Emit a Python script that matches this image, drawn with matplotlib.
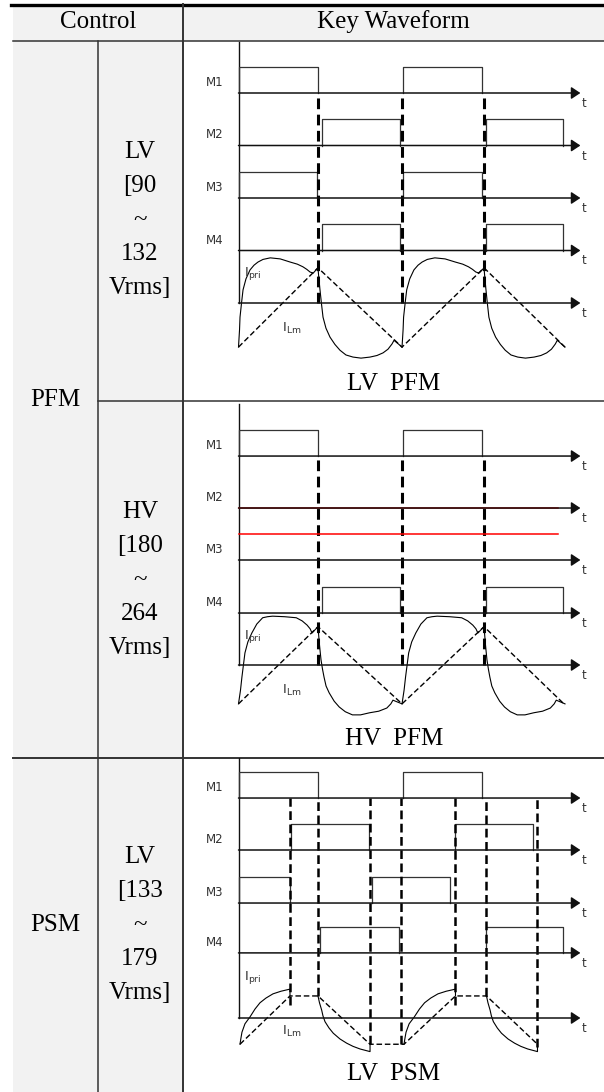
import numpy as np
import matplotlib
matplotlib.use('Agg')
import matplotlib.pyplot as plt
from matplotlib.patches import Rectangle

# table of PFM / PSM control modes with key switching waveforms
W, H = 604, 1092
SERIF = 'Liberation Serif'
SANS = 'DejaVu Sans'

# time axis: t=0 at the vertical axis, 1 unit ~ half a switching period
T0, TU = 238.5, 81.6     # px
YU = 52.5                # px per level unit

# ---- data ----
mode_names = ['PFM', 'PSM']
row_texts = [['LV', '[90', '~', '132', 'Vrms]'],
             ['HV', '[180', '~', '264', 'Vrms]'],
             ['LV', '[133', '~', '179', 'Vrms]']]
captions = ['LV  PFM', 'HV  PFM', 'LV  PSM']
gate_names = ['M1', 'M2', 'M3', 'M4']

# gate pulses (on, off) in t units
lv_pfm_pulses = [[(0.0, 0.974), (2.016, 2.984)],
                 [(1.023, 1.979), (3.033, 3.977)],
                 [(0.0, 0.962), (2.016, 2.984)],
                 [(1.023, 1.979), (3.033, 3.977)]]
hv_pfm_pulses = [[(0.0, 0.974), (2.016, 2.984)],
                 [],
                 [],
                 [(1.023, 1.979), (3.033, 3.977)]]
psm_pulses = [[(0.0, 0.974), (2.016, 2.984)],
              [(0.643, 1.599), (2.653, 3.609)],
              [(0.0, 0.631), (1.636, 2.592)],
              [(0.999, 1.967), (3.033, 3.977)]]

# red marks on HV M2 row
hv_red_levels = [0.0, -0.5]
hv_red_end = 3.915

# switching instants (dashed lines)
pfm_switch = [0.974, 2.004, 3.009]
psm_switch = [0.631, 0.974, 1.612, 1.991, 2.659, 3.039, 3.664]
psm_switch_bottom = [0.25, 0.42, -0.50, -0.50, 0.25, 0.42, -0.55]

# magnetizing current corners
pfm_ilm_t = [0.0, 0.974, 2.004, 3.009, 4.001]
lv_ilm = [-0.84, 0.67, -0.84, 0.67, -0.84]
hv_ilm = [-0.74, 0.73, -0.74, 0.73, -0.76]
psm_ilm_t = [0.018, 0.631, 0.974, 1.612, 2.028, 2.659, 3.039, 3.664]
psm_ilm = [-0.50, 0.42, 0.42, -0.50, -0.50, 0.42, 0.42, -0.50]

# primary current shapes per half cycle (phase 0..1, level)
lv_rise_ph = [0, 0.013, 0.019, 0.038, 0.057, 0.094, 0.145, 0.195, 0.245, 0.308,
              0.40, 0.525, 0.65, 0.74, 0.81, 0.86, 0.90, 0.94, 1.0]
lv_rise = [-0.84, -0.51, -0.27, 0.0, 0.25, 0.46, 0.63, 0.72, 0.78, 0.83,
           0.86, 0.84, 0.78, 0.74, 0.69, 0.64, 0.59, 0.57, 0.67]
lv_fall_ph = [0, 0.012, 0.024, 0.042, 0.06, 0.095, 0.143, 0.202, 0.262, 0.333,
              0.417, 0.512, 0.619, 0.702, 0.774, 0.833, 0.881, 0.905, 1.0]
lv_fall = [0.67, 0.44, 0.25, -0.02, -0.27, -0.48, -0.65, -0.79, -0.90, -0.99,
           -1.03, -1.05, -1.03, -1.00, -0.95, -0.88, -0.78, -0.71, -0.84]
hv_rise_ph = [0, 0.025, 0.043, 0.062, 0.081, 0.118, 0.168, 0.230, 0.304, 0.366,
              0.429, 0.578, 0.727, 0.801, 0.863, 0.901, 0.925, 1.0]
hv_rise = [-0.74, -0.48, -0.23, 0.0, 0.23, 0.44, 0.61, 0.78, 0.90, 0.92,
           0.93, 0.92, 0.90, 0.84, 0.76, 0.69, 0.61, 0.73]
hv_fall_ph = [0, 0.018, 0.036, 0.054, 0.072, 0.096, 0.133, 0.193, 0.253, 0.325,
              0.41, 0.506, 0.614, 0.723, 0.819, 0.867, 0.892, 1.0]
hv_fall = [0.73, 0.38, 0.10, -0.08, -0.23, -0.40, -0.53, -0.69, -0.80, -0.89,
           -0.95, -0.95, -0.91, -0.88, -0.82, -0.74, -0.67, -0.74]
psm_rise_ph = [0, 0.02, 0.04, 0.10, 0.20, 0.30, 0.40, 0.52, 0.66, 0.82, 1.0, 1.0]
psm_rise = [-0.50, -0.38, -0.27, -0.11, 0.02, 0.17, 0.29, 0.38, 0.46, 0.51, 0.55, 0.42]
psm_fall_ph = [0, 0.029, 0.071, 0.096, 0.135, 0.212, 0.294, 0.423, 0.552, 0.673,
               0.808, 1.0, 1.0]
psm_fall = [0.42, 0.29, 0.15, 0.04, -0.07, -0.19, -0.29, -0.40, -0.48, -0.54,
            -0.59, -0.64, -0.50]
psm_rise_spans = [(0.018, 0.631), (2.028, 2.659)]
psm_fall_spans = [(0.974, 1.612), (3.039, 3.664)]

fig = plt.figure(figsize=(W / 100, H / 100), dpi=100)

# ---- table frame ----
tab = fig.add_axes([0, 0, 1, 1])
tab.set_xlim(0, W)
tab.set_ylim(H, 0)
tab.axis('off')
gray = '#f2f2f2'
lc = '#333333'
tab.add_patch(Rectangle((13, 4), W - 13, 37, color=gray, lw=0))
tab.add_patch(Rectangle((13, 41), 170, H - 41, color=gray, lw=0))
tab.plot([11, W], [4.5, 4.5], color='black', lw=2.4)
tab.plot([13, W], [41, 41], color=lc, lw=1.1)
tab.plot([98, W], [401, 401], color=lc, lw=1.1)
tab.plot([13, W], [758, 758], color=lc, lw=1.4)
tab.plot([98, 98], [41, H], color=lc, lw=1.1)
tab.plot([183, 183], [4, H], color=lc, lw=1.4)

fs = 18
tab.text(98, 22, 'Control', ha='center', va='center', fontsize=fs, family=SERIF)
tab.text(393, 22, 'Key Waveform', ha='center', va='center', fontsize=fs, family=SERIF)
tab.text(55, 400, mode_names[0], ha='center', va='center', fontsize=fs, family=SERIF)
tab.text(55, 925, mode_names[1], ha='center', va='center', fontsize=fs, family=SERIF)
for lines, yc in zip(row_texts, [220, 580, 925]):
    for i, s in enumerate(lines):
        tab.text(140, yc + (i - 2) * 34, s, ha='center', va='center', fontsize=fs, family=SERIF)
for cap, yc in zip(captions, [384, 739, 1074]):
    tab.text(394, yc, cap, ha='center', va='center', fontsize=fs, family=SERIF)


def panel(y_top, y_bot, y_zero):
    ax = fig.add_axes([183 / W, 1 - y_bot / H, (W - 183) / W, (y_bot - y_top) / H])
    ax.set_xlim((183 - T0) / TU, (W - T0) / TU)
    ax.set_ylim((y_zero - y_bot) / YU, (y_zero - y_top) / YU)
    ax.axis('off')
    ax.patch.set_alpha(0)
    return ax


def draw_panel(ax, bases, top, pulses, switch, sw_top, sw_bottom, sw_lw):
    # vertical axis
    ax.plot([0, 0], [0, top], color='#111111', lw=1.0)
    for b in bases + [0.0]:
        ax.annotate('', xy=(4.19, b), xytext=(0, b),
                    arrowprops=dict(arrowstyle='-|>,head_length=0.45,head_width=0.3',
                                    mutation_scale=12, lw=1.1, color='#111111',
                                    shrinkA=0, shrinkB=0))
        ax.text(4.235, b - 0.2, 't', ha='center', va='center', fontsize=8.5,
                family=SANS, color='#333333')
    for name, b, pl in zip(gate_names, bases, pulses):
        ax.text(-0.29, b + 0.2, name, ha='center', va='center', fontsize=8.5,
                family=SANS, color='#333333')
        for on, off in pl:
            ax.plot([on, on, off, off], [b, b + 0.5, b + 0.5, b], color='#333333', lw=0.9)
    ax.vlines(switch, sw_bottom, sw_top, colors='black', lw=sw_lw,
              linestyles=[(0, (3.5, 1.8))])


def draw_cycle(ax, spans, ph, lev):
    for a, b in spans:
        t = [a + p * (b - a) for p in ph]
        ax.plot(t, lev, color='black', lw=0.8)


def current_labels(ax, y_pri, y_lm):
    ax.text(0.18, y_pri, r'$\mathregular{I_{pri}}$', ha='center', va='center',
            fontsize=9.5, color='#333333')
    ax.text(0.65, y_lm, r'$\mathregular{I_{Lm}}$', ha='center', va='center',
            fontsize=9.5, color='#333333')


# LV PFM
ax1 = panel(41, 401, 303)
draw_panel(ax1, [4.0, 3.0, 2.0, 1.0], 4.97, lv_pfm_pulses, pfm_switch, 4.0, 0.0, 2.2)
ax1.plot(pfm_ilm_t, lv_ilm, color='black', lw=1.0, ls=(0, (4, 2)))
draw_cycle(ax1, [(pfm_ilm_t[0], pfm_ilm_t[1]), (pfm_ilm_t[2], pfm_ilm_t[3])], lv_rise_ph, lv_rise)
draw_cycle(ax1, [(pfm_ilm_t[1], pfm_ilm_t[2]), (pfm_ilm_t[3], pfm_ilm_t[4])], lv_fall_ph, lv_fall)
current_labels(ax1, 0.57, -0.48)

# HV PFM
ax2 = panel(401, 758, 665)
draw_panel(ax2, [3.98, 2.99, 2.0, 0.99], 4.97, hv_pfm_pulses, pfm_switch, 3.98, 0.0, 2.2)
for lv_ in hv_red_levels:
    ax2.plot([0, hv_red_end], [2.99 + lv_, 2.99 + lv_], color='#ff0000', lw=1.1)
ax2.plot(pfm_ilm_t, hv_ilm, color='black', lw=1.0, ls=(0, (4, 2)))
draw_cycle(ax2, [(pfm_ilm_t[0], pfm_ilm_t[1]), (pfm_ilm_t[2], pfm_ilm_t[3])], hv_rise_ph, hv_rise)
draw_cycle(ax2, [(pfm_ilm_t[1], pfm_ilm_t[2]), (pfm_ilm_t[3], pfm_ilm_t[4])], hv_fall_ph, hv_fall)
current_labels(ax2, 0.55, -0.48)

# LV PSM
ax3 = panel(758, H, 1018)
draw_panel(ax3, [4.19, 3.20, 2.19, 1.24], 5.07, psm_pulses, psm_switch, 4.19,
           psm_switch_bottom, 1.8)
ax3.plot(psm_ilm_t, psm_ilm, color='black', lw=1.0, ls=(0, (4, 2)))
draw_cycle(ax3, psm_rise_spans, psm_rise_ph, psm_rise)
draw_cycle(ax3, psm_fall_spans, psm_fall_ph, psm_fall)
current_labels(ax3, 0.78, -0.25)

fig.savefig('out.png', dpi=100, facecolor='white')
